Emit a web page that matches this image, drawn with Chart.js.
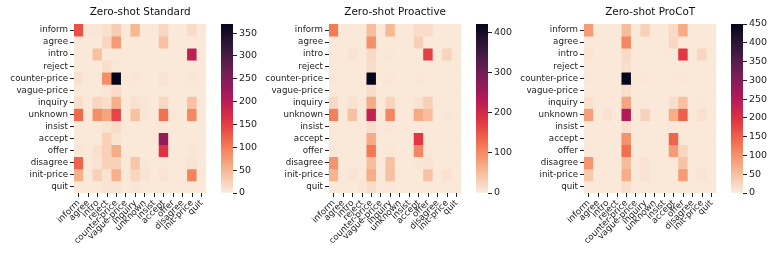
<!DOCTYPE html>
<html>
<head>
<meta charset="utf-8">
<script src="https://cdn.jsdelivr.net/npm/chart.js@4/dist/chart.umd.min.js"></script>
<style>
  body { margin: 0; background: #fff; }
  #wrap { position: relative; width: 772px; height: 258px; }
  canvas { position: absolute; top: 0; }
</style>
</head>
<body>
<div id="wrap"></div>
<script>
const acts = ['inform', 'agree', 'intro', 'reject', 'counter-price', 'vague-price', 'inquiry',
  'unknown', 'insist', 'accept', 'offer', 'disagree', 'init-price', 'quit']

const titles = ['Zero-shot Standard', 'Zero-shot Proactive', 'Zero-shot ProCoT']
const vmaxes = [370, 422, 450]
const tickSteps = [50, 100, 50]

// rows = true act, cols = predicted act
const standard = [
  [135, 5, 5, 10, 30, 3, 50, 3, 3, 20, 3, 3, 15, 3],
  [3, 3, 3, 20, 75, 3, 3, 3, 3, 40, 3, 3, 3, 3],
  [3, 3, 40, 3, 3, 3, 3, 3, 3, 3, 3, 3, 195, 3],
  [3, 3, 3, 12, 5, 3, 3, 3, 3, 3, 3, 3, 3, 3],
  [10, 3, 3, 85, 370, 3, 5, 3, 3, 8, 3, 3, 5, 3],
  [3, 3, 3, 5, 15, 3, 3, 3, 3, 3, 3, 3, 3, 3],
  [12, 3, 20, 12, 55, 3, 10, 5, 3, 18, 3, 3, 40, 3],
  [115, 3, 85, 65, 145, 3, 40, 5, 3, 110, 5, 3, 90, 3],
  [3, 3, 3, 8, 15, 3, 3, 3, 3, 5, 3, 3, 3, 3],
  [3, 3, 3, 25, 8, 3, 3, 3, 3, 235, 3, 3, 3, 3],
  [5, 3, 10, 25, 60, 3, 3, 3, 3, 160, 3, 3, 5, 3],
  [120, 3, 8, 25, 25, 3, 35, 5, 3, 5, 3, 3, 8, 3],
  [55, 3, 25, 8, 55, 3, 20, 8, 3, 8, 3, 3, 95, 3],
  [3, 3, 3, 8, 8, 3, 5, 3, 3, 3, 3, 3, 3, 3]
]

const proactive = [
  [115, 3, 3, 3, 50, 3, 55, 3, 3, 15, 15, 3, 3, 3],
  [3, 3, 3, 3, 95, 3, 3, 3, 3, 30, 3, 3, 3, 3],
  [3, 3, 8, 3, 20, 3, 5, 3, 3, 3, 170, 3, 25, 3],
  [3, 3, 3, 3, 15, 3, 3, 3, 3, 3, 3, 3, 3, 3],
  [5, 3, 3, 3, 422, 3, 5, 3, 3, 5, 3, 3, 3, 3],
  [3, 3, 3, 3, 15, 3, 3, 3, 3, 3, 3, 3, 3, 3],
  [20, 3, 10, 3, 70, 3, 25, 3, 3, 10, 30, 3, 3, 3],
  [110, 3, 45, 3, 215, 3, 105, 3, 3, 70, 50, 3, 5, 3],
  [3, 3, 3, 3, 15, 3, 5, 3, 3, 3, 3, 3, 3, 3],
  [3, 3, 3, 3, 70, 3, 3, 3, 3, 178, 3, 3, 3, 3],
  [5, 3, 3, 3, 118, 3, 5, 3, 3, 105, 5, 3, 3, 3],
  [90, 3, 3, 3, 50, 3, 45, 3, 3, 5, 10, 3, 3, 3],
  [60, 3, 8, 3, 68, 3, 45, 3, 3, 3, 45, 3, 10, 3],
  [3, 3, 3, 5, 15, 3, 5, 3, 3, 3, 3, 3, 3, 3]
]

const procot = [
  [90, 3, 3, 3, 55, 3, 30, 3, 3, 20, 75, 3, 3, 3],
  [3, 3, 3, 3, 110, 3, 3, 3, 3, 25, 3, 3, 3, 3],
  [8, 3, 3, 3, 20, 3, 3, 3, 5, 3, 190, 3, 25, 3],
  [3, 3, 3, 3, 15, 3, 3, 3, 3, 3, 3, 3, 3, 3],
  [5, 3, 3, 3, 450, 3, 5, 3, 3, 5, 5, 3, 3, 3],
  [3, 3, 3, 3, 15, 3, 3, 3, 3, 3, 3, 3, 3, 3],
  [12, 3, 3, 3, 80, 3, 3, 3, 3, 15, 50, 3, 5, 3],
  [85, 3, 10, 3, 250, 3, 30, 5, 3, 70, 150, 3, 12, 3],
  [3, 3, 3, 3, 15, 3, 3, 3, 3, 3, 3, 3, 3, 3],
  [3, 3, 3, 3, 100, 3, 3, 3, 3, 145, 3, 3, 3, 3],
  [5, 3, 3, 3, 135, 3, 3, 3, 3, 90, 25, 3, 3, 3],
  [95, 3, 3, 3, 55, 3, 10, 3, 3, 5, 45, 3, 3, 3],
  [40, 3, 5, 3, 70, 3, 10, 3, 3, 3, 90, 3, 8, 3],
  [3, 3, 3, 3, 15, 3, 3, 3, 3, 3, 3, 3, 3, 3]
]

const matrices = [standard, proactive, procot]

// seaborn rocket_r
const cmapStops = ['#faebdd', '#f6b48f', '#f37651', '#e13342', '#ad1759', '#701f57', '#35193e', '#03051a']

function hexRgb(h) {
  return [1, 3, 5].map(i => parseInt(h.slice(i, i + 2), 16))
}

function cmap(t) {
  t = Math.max(0, Math.min(1, t))
  const n = cmapStops.length - 1
  const i = Math.min(n - 1, Math.floor(t * n))
  const f = t * n - i
  const a = hexRgb(cmapStops[i]), b = hexRgb(cmapStops[i + 1])
  const c = a.map((v, k) => Math.round(v + (b[k] - v) * f))
  return `rgb(${c[0]},${c[1]},${c[2]})`
}

Chart.defaults.font.family = '"DejaVu Sans", sans-serif'
Chart.defaults.font.size = 8.7
Chart.defaults.color = '#222'
Chart.defaults.animation = false

const panelOffsets = [0, 255, 510]
const wrap = document.getElementById('wrap')

function makeCanvas(left, width) {
  const c = document.createElement('canvas')
  c.style.left = left + 'px'
  c.style.width = width + 'px'
  c.style.height = '258px'
  c.width = width
  c.height = 258
  wrap.appendChild(c)
  return c
}

const centreTitle = {
  id: 'centreTitle',
  afterDraw(chart, args, opts) {
    const { ctx, chartArea } = chart
    ctx.save()
    ctx.font = '10.4px "DejaVu Sans", sans-serif'
    ctx.fillStyle = '#111'
    ctx.textAlign = 'center'
    ctx.textBaseline = 'middle'
    ctx.fillText(opts.text, (chartArea.left + chartArea.right) / 2, 12)
    ctx.restore()
  }
}

matrices.forEach((m, p) => {
  const off = panelOffsets[p]
  const vmax = vmaxes[p]
  const step = tickSteps[p]

  new Chart(makeCanvas(off, 210), {
    type: 'bar',
    plugins: [centreTitle],
    data: {
      labels: acts,
      datasets: m.map((row, r) => ({
        label: acts[r],
        data: row.map(() => 1),
        backgroundColor: row.map(v => cmap(v / vmax)),
        borderWidth: 0,
        barPercentage: 1,
        categoryPercentage: 1,
      })),
    },
    options: {
      responsive: false,
      layout: { padding: { top: 24, right: 0, left: 0, bottom: 0 } },
      plugins: {
        legend: { display: false },
        tooltip: { enabled: false },
        centreTitle: { text: titles[p] },
      },
      scales: {
        x: {
          stacked: true,
          grid: { offset: false, drawOnChartArea: false, tickLength: 4, color: '#222' },
          border: { display: false },
          ticks: { autoSkip: false, maxRotation: 45, minRotation: 45, padding: 1 },
          afterFit(scale) { scale.height = 65 },
        },
        y: {
          stacked: true,
          min: 0,
          max: acts.length,
          reverse: true,
          grid: { drawOnChartArea: false, tickLength: 4, color: '#222' },
          border: { display: false },
          afterBuildTicks(scale) {
            scale.ticks = acts.map((_, i) => ({ value: i + 0.5 }))
          },
          ticks: {
            autoSkip: false,
            padding: 2,
            callback: (v, i) => acts[i],
          },
          afterFit(scale) { scale.width = 74 },
        },
      },
    },
  })

  // colour bar
  new Chart(makeCanvas(off + 221, 50), {
    type: 'bar',
    data: {
      labels: [''],
      datasets: [{
        data: [[0, vmax]],
        borderWidth: 0,
        barPercentage: 1,
        categoryPercentage: 1,
        backgroundColor(ctx) {
          const area = ctx.chart.chartArea
          if (!area) return cmapStops[0]
          const g = ctx.chart.ctx.createLinearGradient(0, area.bottom, 0, area.top)
          for (let i = 0; i <= 20; i++) g.addColorStop(i / 20, cmap(i / 20))
          return g
        },
      }],
    },
    options: {
      responsive: false,
      layout: { padding: { top: 24, bottom: 65, left: 0, right: 0 } },
      plugins: { legend: { display: false }, tooltip: { enabled: false } },
      scales: {
        x: { display: false },
        y: {
          position: 'right',
          min: 0,
          max: vmax,
          grid: { drawOnChartArea: false, tickLength: 4, color: '#222' },
          border: { display: false },
          afterBuildTicks(scale) {
            const ticks = []
            for (let v = 0; v <= vmax; v += step) ticks.push({ value: v })
            scale.ticks = ticks
          },
          ticks: { autoSkip: false, padding: 2, font: { size: 9.5 } },
          afterFit(scale) { scale.width = 38 },
        },
      },
    },
  })
})
</script>
</body>
</html>
